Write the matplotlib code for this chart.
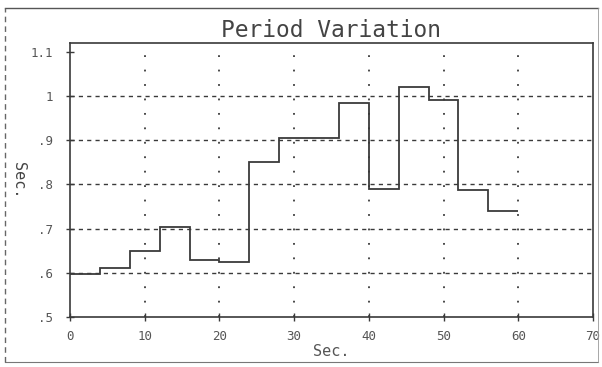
import matplotlib
matplotlib.use("Agg")
import matplotlib.pyplot as plt
from matplotlib.lines import Line2D

# ── Datos ────────────────────────────────────────────────────────────
t_edges = [0, 4, 8, 12, 16, 20, 24, 28, 32, 36, 40, 44, 48, 52, 56, 60]
period = [0.597, 0.611, 0.650, 0.703, 0.630, 0.625, 0.851, 0.905,
          0.905, 0.984, 0.790, 1.020, 0.990, 0.787, 0.740]
x_ticks = [0, 10, 20, 30, 40, 50, 60, 70]
y_ticks = [0.5, 0.6, 0.7, 0.8, 0.9, 1.0, 1.1]
y_labels = [".5", ".6", ".7", ".8", ".9", "1", "1.1"]

INK = "#3a3a3a"
MONO = "DejaVu Sans Mono"

fig = plt.figure(figsize=(6.02, 3.67), dpi=100)
fig.patch.set_facecolor("white")
ax = fig.add_axes([0.1163, 0.1362, 0.8687, 0.7466])

ax.stairs(period, t_edges, color=INK, lw=1.3, baseline=None, zorder=3)

ax.set_xlim(0, 70)
ax.set_ylim(0.5, 1.12)
ax.set_xticks(x_ticks)
ax.set_yticks(y_ticks)
ax.set_yticklabels(y_labels)
ax.tick_params(direction="inout", length=6, width=1, colors=INK,
               labelsize=9, pad=6)
ax.tick_params(axis="y", pad=9)
for lab in ax.get_xticklabels() + ax.get_yticklabels():
    lab.set_family(MONO)
    lab.set_color("#555555")

for s in ax.spines.values():
    s.set_color(INK)
    s.set_linewidth(1.2)

# rejilla: horizontales a trazos, verticales punteadas
for y in y_ticks[1:-1]:
    ax.axhline(y, color=INK, lw=1.0, ls=(0, (3, 3)), zorder=1)
for x in x_ticks[1:-1]:
    ax.axvline(x, color=INK, lw=1.3, ls=(0, (1, 7)), zorder=1)

ax.text(0.5, 1.005, "Period Variation", transform=ax.transAxes,
        ha="center", va="bottom", fontsize=16.5, family=MONO, color="#444444")
ax.set_xlabel("Sec.", family=MONO, fontsize=11, color="#555555", labelpad=1)
fig.text(0.03, 0.51, "Sec.", rotation=270, ha="center", va="center",
         family=MONO, fontsize=11, color="#444444")

# marco exterior
fig.add_artist(Line2D([0.008, 0.993], [0.978, 0.978], color="#555555", lw=1.0))
fig.add_artist(Line2D([0.008, 0.993], [0.014, 0.014], color="#777777", lw=0.8))
fig.add_artist(Line2D([0.008, 0.008], [0.014, 0.978], color="#666666", lw=1.0,
                      ls=(0, (4, 3))))
fig.add_artist(Line2D([0.993, 0.993], [0.014, 0.978], color="#999999", lw=0.6))

plt.savefig("out.png", dpi=100, facecolor="white")
